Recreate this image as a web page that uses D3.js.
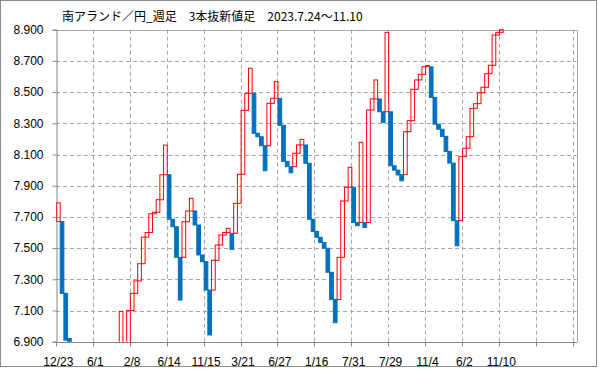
<!DOCTYPE html>
<html>
<head>
<meta charset="utf-8">
<script src="https://cdn.jsdelivr.net/npm/d3@7"></script>
<style>
  body { margin: 0; background: #fff; }
  svg { display: block; }
  text { font-family: "Liberation Sans", Arial, sans-serif; fill: #000; }
  .title { font-family: "Noto Sans CJK JP", sans-serif; font-size: 12px; }
</style>
</head>
<body>
<div id="chart"></div>
<script>
// weekly 3-line-break bars: start and end price of each bar (null = off chart)
var opens = [
  7.67, 7.67, 7.21, 6.92, null, null, null, null, null, null,
  null, null, null, null, null, null, null, 6.85, null, 6.85,
  7.10, 7.21, 7.29, 7.40, 7.57, 7.60, 7.72, 7.73, 7.81, 7.97,
  7.97, 7.685, 7.637, 7.441, 7.441, 7.669, 7.738, 7.738, 7.648, 7.456,
  7.413, 7.231, 7.231, 7.422, 7.52, 7.584, 7.60, 7.595, 7.595, 7.787,
  7.973, 8.383, 8.492, 8.492, 8.236, 8.214, 8.156, 8.156, 8.428, 8.46,
  8.46, 8.287, 8.056, 8.022, 8.022, 8.108, 8.161, 8.161, 8.044, 7.685,
  7.607, 7.569, 7.536, 7.499, 7.345, 7.17, 7.17, 7.441, 7.802, 7.89,
  7.89, 7.664, 7.664, 7.664, 7.664, 8.385, 8.456, 8.456, 8.374, 8.374,
  8.374, 8.028, 8.00, 7.971, 7.971, 8.246, 8.317, 8.518, 8.578, 8.614,
  8.663, 8.662, 8.466, 8.294, 8.262, 8.216, 8.12, 8.045, 7.676, 7.676,
  8.086, 8.14, 8.214, 8.396, 8.426, 8.496, 8.531, 8.618, 8.672, 8.866,
  8.883
];
var closes = [
  7.79, 7.21, 6.91, 6.85, null, null, null, null, null, null,
  null, null, null, null, null, null, null, 7.095, null, 7.10,
  7.21, 7.29, 7.40, 7.57, 7.60, 7.72, 7.73, 7.81, 7.97, 8.16,
  7.685, 7.637, 7.441, 7.167, 7.669, 7.738, 7.819, 7.648, 7.456, 7.413,
  7.231, 6.943, 7.422, 7.52, 7.584, 7.60, 7.627, 7.492, 7.787, 7.973,
  8.383, 8.492, 8.653, 8.236, 8.214, 8.156, 7.996, 8.428, 8.46, 8.567,
  8.287, 8.056, 8.022, 7.983, 8.108, 8.161, 8.197, 8.044, 7.685, 7.607,
  7.569, 7.536, 7.499, 7.345, 7.17, 7.022, 7.441, 7.802, 7.89, 8.018,
  7.664, 7.644, 8.178, 7.632, 8.385, 8.456, 8.578, 8.374, 8.304, 8.883,
  8.028, 8.00, 7.969, 7.932, 8.246, 8.317, 8.518, 8.578, 8.614, 8.663,
  8.67, 8.466, 8.294, 8.262, 8.216, 8.12, 8.045, 7.676, 7.515, 8.086,
  8.14, 8.214, 8.396, 8.426, 8.496, 8.531, 8.618, 8.672, 8.866, 8.883,
  8.90
];
var dateLabels = ["12/23", "6/1", "2/8", "6/14", "11/15", "3/21", "6/27", "1/16", "7/31", "7/29", "11/4", "6/2", "11/10"];
var yTicks = [6.9, 7.1, 7.3, 7.5, 7.7, 7.9, 8.1, 8.3, 8.5, 8.7, 8.9];
var title = "南アランド／円_週足　3本抜新値足　2023.7.24～11.10";

const width = 599, height = 369;
const plot = { left: 56, right: 576.5, top: 29.7, bottom: 341.7 };
const nCats = 141, labelEvery = 10;

var svg = d3.select('#chart').append('svg')
    .attr('width', width)
    .attr('height', height);

// outer chart border
svg.append('rect')
    .attr('x', 0.5).attr('y', 0.5)
    .attr('width', 596).attr('height', 366)
    .attr('fill', '#fff')
    .attr('stroke', '#8c8c8c');

svg.append('text').attr('class', 'title')
    .attr('x', 62).attr('y', 21)
    .text(title);

var xScale = d3.scaleBand().domain(d3.range(nCats)).range([plot.left, plot.right]).padding(0);
var yScale = d3.scaleLinear().domain([6.9, 8.9]).range([plot.bottom, plot.top]);
var bw = xScale.bandwidth();

// gridlines
var grid = svg.append('g')
    .attr('stroke', '#a6a6a6')
    .attr('stroke-dasharray', '4,3');
grid.selectAll('.hg').data(yTicks.slice(1, -1)).enter().append('line')
    .attr('x1', plot.left).attr('x2', plot.right)
    .attr('y1', d => Math.round(yScale(d)) + 0.5)
    .attr('y2', d => Math.round(yScale(d)) + 0.5);
var vTicks = d3.range(labelEvery, nCats, labelEvery);
grid.selectAll('.vg').data(vTicks).enter().append('line')
    .attr('x1', d => Math.round(xScale(d)) + 0.5)
    .attr('x2', d => Math.round(xScale(d)) + 0.5)
    .attr('y1', plot.top).attr('y2', plot.bottom);

// plot border top / right
svg.append('path')
    .attr('d', 'M' + plot.left + ',' + (Math.round(plot.top) + 0.5) + 'H' + (Math.round(plot.right) + 0.5) + 'V' + plot.bottom)
    .attr('fill', 'none')
    .attr('stroke', '#a6a6a6');

svg.append('clipPath').attr('id', 'clip')
    .append('rect')
    .attr('x', plot.left).attr('y', plot.top - 1)
    .attr('width', plot.right - plot.left).attr('height', plot.bottom - plot.top + 1);

var bars = [];
opens.forEach((o, i) => {
    if (o != null && closes[i] != null) bars.push({ i: i, o: o, c: closes[i] });
});

svg.append('g').attr('clip-path', 'url(#clip)')
    .selectAll('rect')
    .data(bars)
    .enter()
    .append('rect')
    .attr('x', d => xScale(d.i) + 0.5)
    .attr('width', bw)
    .attr('y', d => yScale(Math.max(d.o, d.c)))
    .attr('height', d => Math.abs(yScale(d.o) - yScale(d.c)))
    .attr('fill', d => d.c > d.o ? 'none' : '#0070c0')
    .attr('stroke', d => d.c > d.o ? '#ff0000' : '#0070c0')
    .attr('stroke-width', 1);

// axes
var yAxis = d3.axisLeft(yScale).tickValues(yTicks).tickFormat(d3.format('.3f')).tickSize(4).tickPadding(9);
var gy = svg.append('g')
    .attr('transform', 'translate(' + (plot.left + 0.5) + ',0)')
    .call(yAxis);
gy.selectAll('text').style('font-size', '12px');

var gx = svg.append('g')
    .attr('transform', 'translate(0,' + (Math.round(plot.bottom) + 0.5) + ')');
gx.append('line').attr('x1', plot.left).attr('x2', plot.right + 0.5);
gx.selectAll('.tk').data(d3.range(0, nCats, labelEvery)).enter().append('line')
    .attr('x1', d => Math.round(xScale(d)) + 0.5)
    .attr('x2', d => Math.round(xScale(d)) + 0.5)
    .attr('y1', 0).attr('y2', 4);
gx.selectAll('line').attr('stroke', '#868686');
gx.selectAll('text').data(dateLabels).enter().append('text')
    .attr('x', (d, k) => xScale(k * labelEvery) + bw / 2 + 0.5)
    .attr('y', 23)
    .attr('text-anchor', 'middle')
    .style('font-size', '12px')
    .text(d => d);

svg.selectAll('.domain, .tick line').attr('stroke', '#868686');
</script>
</body>
</html>
